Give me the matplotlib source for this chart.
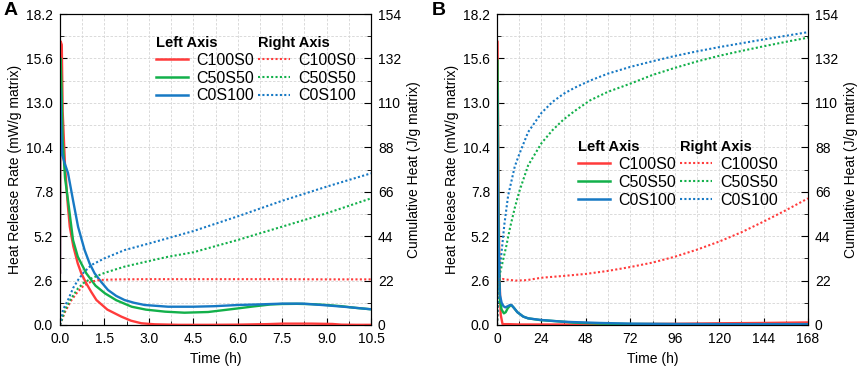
import matplotlib
matplotlib.use('Agg')
import matplotlib.pyplot as plt
from matplotlib.lines import Line2D
from matplotlib.ticker import MultipleLocator

plt.rcParams['font.family'] = ['Liberation Sans', 'DejaVu Sans']

# Colores
rojo = '#ff3b3b'
verde = '#12b04a'
azul = '#1779c4'

series = ['C100S0', 'C50S50', 'C0S100']

# ---------------- Panel A (0 - 10.5 h) ----------------
# Velocidad de liberación de calor (eje izquierdo)
t_red_hrr_A = [0.0, 0.02, 0.06, 0.09, 0.17, 0.25, 0.33, 0.45, 0.6, 0.72, 0.9, 1.05, 1.23, 1.6,
               2.07, 2.4, 2.75, 3.2, 4.0, 5.0, 6.0, 7.0, 7.5, 8.5, 9.2, 9.5, 10.0, 10.5]
red_hrr_A = [3.0, 16.6, 16.4, 12.5, 9.3, 7.3, 5.75, 4.6, 3.6, 3.02, 2.4, 1.95, 1.46, 0.9,
             0.49, 0.25, 0.1, 0.04, 0.01, 0.01, 0.02, 0.05, 0.08, 0.08, 0.06, 0.02, 0.01, 0.01]

t_green_hrr_A = [0.0, 0.02, 0.05, 0.09, 0.17, 0.27, 0.44, 0.6, 0.89, 1.2, 1.52, 1.9, 2.42,
                 2.9, 3.55, 4.2, 5.0, 6.0, 6.5, 7.1, 7.5, 8.0, 8.5, 9.0, 9.5, 10.0, 10.5]
green_hrr_A = [13.0, 15.6, 14.0, 10.8, 8.6, 7.3, 4.97, 4.0, 3.02, 2.3, 1.85, 1.45, 1.07,
               0.9, 0.78, 0.72, 0.76, 0.97, 1.08, 1.2, 1.23, 1.24, 1.22, 1.17, 1.1, 1.0, 0.92]

t_blue_hrr_A = [0.0, 0.0, 0.03, 0.07, 0.17, 0.27, 0.44, 0.61, 0.83, 1.0, 1.17, 1.4, 1.62,
                1.9, 2.18, 2.5, 2.86, 3.65, 4.5, 5.2, 6.0, 6.8, 7.5, 8.2, 9.0, 9.7, 10.5]
blue_hrr_A = [3.0, 13.85, 12.0, 10.0, 9.4, 8.9, 7.3, 5.75, 4.39, 3.6, 3.02, 2.5, 2.05,
              1.7, 1.46, 1.3, 1.17, 1.07, 1.07, 1.1, 1.17, 1.21, 1.25, 1.25, 1.15, 1.05, 0.92]

# Calor acumulado (eje derecho)
t_red_cum_A = [0, 0.17, 0.39, 0.6, 0.8, 1.06, 1.3, 1.5, 2.0, 3.0, 4.5, 6.0, 7.5, 9.0, 10.5]
red_cum_A = [0, 6.5, 12.4, 16.5, 19.5, 21.5, 22.2, 22.4, 22.6, 22.7, 22.7, 22.7, 22.7, 22.6, 22.6]

t_green_cum_A = [0, 0.17, 0.35, 0.61, 0.8, 1.06, 1.5, 2.18, 3.04, 3.65, 4.5, 6.0, 7.5, 9.0, 10.5]
green_cum_A = [0, 7.5, 12.5, 18.2, 20.8, 23.1, 25.8, 28.9, 31.8, 33.8, 36.0, 42.1, 48.7, 55.3, 62.7]

t_blue_cum_A = [0, 0.1, 0.27, 0.45, 0.61, 0.8, 1.06, 1.5, 2.18, 3.04, 3.65, 4.5, 6.0, 7.5, 9.0, 10.5]
blue_cum_A = [0, 7.5, 12.4, 18.5, 22.3, 26.0, 29.7, 33.0, 37.1, 40.5, 43.0, 46.5, 53.8, 61.5, 68.5, 75.1]

# ---------------- Panel B (0 - 168 h) ----------------
t_red_hrr_B = [0, 0.3, 0.8, 1.3, 2.0, 3.0, 6, 12, 24, 48, 72, 96, 120, 144, 168]
red_hrr_B = [16.6, 16.6, 8.0, 3.0, 0.6, 0.05, 0.05, 0.03, 0.03, 0.03, 0.05, 0.07, 0.1, 0.12, 0.15]

t_green_hrr_B = [0, 0.3, 0.8, 1.3, 1.6, 2.5, 3.7, 4.7, 5.8, 7.0, 7.8, 9.0, 11.0, 14.2, 16.8,
                 23.2, 34.8, 41.2, 55.6, 72, 96, 120, 144, 168]
green_hrr_B = [15.5, 15.5, 6.0, 2.2, 1.4, 0.9, 0.68, 0.75, 0.98, 1.12, 1.16, 1.02, 0.75, 0.49,
               0.39, 0.29, 0.2, 0.14, 0.08, 0.06, 0.05, 0.05, 0.05, 0.05]

t_blue_hrr_B = [0, 0.3, 0.8, 1.3, 1.6, 2.5, 3.5, 4.5, 5.8, 7.0, 7.8, 9.0, 11.0, 14.2, 16.8,
                23.2, 34.8, 41.2, 55.6, 72, 96, 120, 144, 168]
blue_hrr_B = [13.8, 10.0, 5.0, 2.6, 1.75, 1.3, 1.1, 1.03, 1.1, 1.17, 1.17, 1.02, 0.75, 0.49,
              0.39, 0.3, 0.2, 0.17, 0.12, 0.08, 0.06, 0.05, 0.05, 0.05]

t_red_cum_B = [0, 0.5, 1.0, 1.5, 3, 6, 10, 16, 24, 36, 48, 60, 72, 84, 96, 108, 120, 132,
               144, 156, 168]
red_cum_B = [0, 12, 20, 22.5, 22.8, 22.4, 22.0, 22.2, 23.4, 24.3, 25.3, 26.8, 28.7, 30.9,
             33.8, 37.3, 41.3, 45.9, 51.2, 56.8, 62.7]

t_green_cum_B = [0, 0.5, 1.0, 1.6, 3, 5, 7, 9.6, 12, 16.8, 24, 30, 36, 42, 50.2, 60, 72,
                 84, 96, 108, 120, 132, 144, 156, 168]
green_cum_B = [0, 10, 18, 25.6, 31, 39, 48, 58, 66, 79, 90, 96.5, 101.8, 106, 111.2, 115.5,
               119.5, 123.8, 127.3, 130.5, 133.3, 135.7, 138.0, 140.2, 142.3]

t_blue_cum_B = [0, 0.5, 1.0, 1.6, 2.4, 4, 6, 9.6, 12, 16.8, 24, 30, 36, 42, 50.2, 60, 72,
                84, 96, 108, 120, 132, 144, 156, 168]
blue_cum_B = [0, 12, 20, 28.9, 35.5, 50, 64, 78.5, 84.5, 95.5, 105, 110.5, 114.5, 117.5, 121,
              124.5, 127.8, 130.6, 133.2, 135.5, 137.6, 139.5, 141.4, 143.2, 145]


def dibujar_panel(ax, hrr, cum, xmax, xstep, xlabels, leg_left, leg_right):
    colores = [rojo, verde, azul]
    for (t, v), c in zip(hrr, colores):
        ax.plot(t, v, color=c, lw=1.7, solid_capstyle='butt', zorder=3)

    ax.set_xlim(0, xmax)
    ax.set_ylim(0, 18.2)
    ax.set_xticks([i * xstep for i in range(len(xlabels))])
    ax.set_xticklabels(xlabels)
    ax.xaxis.set_minor_locator(MultipleLocator(xstep / 2))
    ax.set_yticks([i * 2.6 for i in range(8)])
    ax.set_yticklabels(['%.1f' % (i * 2.6) for i in range(8)])
    ax.yaxis.set_minor_locator(MultipleLocator(1.3))
    ax.grid(which='both', color='#d4d4d4', linestyle=(0, (3, 2)), lw=0.6)
    ax.set_axisbelow(True)
    ax.tick_params(which='both', direction='in', labelsize=10, pad=5)
    ax.tick_params(which='major', length=5)
    ax.tick_params(which='minor', length=3)
    ax.set_xlabel('Time (h)', fontsize=10, labelpad=4)
    ax.set_ylabel('Heat Release Rate (mW/g matrix)', fontsize=10, labelpad=3)

    ax2 = ax.twinx()
    for (t, v), c in zip(cum, colores):
        ax2.plot(t, v, color=c, lw=1.5, linestyle=(0, (1, 1.1)), zorder=2)
    ax2.set_ylim(0, 154)
    ax2.set_yticks([i * 22 for i in range(8)])
    ax2.yaxis.set_minor_locator(MultipleLocator(11))
    ax2.tick_params(which='both', direction='in', labelsize=10, pad=5)
    ax2.tick_params(which='major', length=5)
    ax2.tick_params(which='minor', length=3)
    ax2.set_ylabel('Cumulative Heat (J/g matrix)', fontsize=10, labelpad=4)

    # Leyendas
    h_izq = [Line2D([], [], color=c, lw=1.8) for c in colores]
    h_der = [Line2D([], [], color=c, lw=1.5, linestyle=(0, (1, 1.1))) for c in colores]
    opciones = dict(loc='upper left', frameon=False, fontsize=11.5, handlelength=1.95,
                    handletextpad=0.55, labelspacing=0.18, borderpad=0, borderaxespad=0,
                    alignment='left', title_fontproperties={'weight': 'bold', 'size': 10.5})
    l1 = ax2.legend(h_izq, series, title='Left Axis', bbox_to_anchor=leg_left, **opciones)
    ax2.add_artist(l1)
    ax2.legend(h_der, series, title='Right Axis', bbox_to_anchor=leg_right, **opciones)
    return ax2


fig = plt.figure(figsize=(8.58, 3.70), dpi=100)
axA = fig.add_axes([60 / 858, 45 / 370, 311 / 858, 311 / 370])
axB = fig.add_axes([497 / 858, 45 / 370, 311 / 858, 311 / 370])

dibujar_panel(axA,
              [(t_red_hrr_A, red_hrr_A), (t_green_hrr_A, green_hrr_A), (t_blue_hrr_A, blue_hrr_A)],
              [(t_red_cum_A, red_cum_A), (t_green_cum_A, green_cum_A), (t_blue_cum_A, blue_cum_A)],
              10.5, 1.5, ['0.0', '1.5', '3.0', '4.5', '6.0', '7.5', '9.0', '10.5'],
              (0.31, 0.93), (0.638, 0.93))

dibujar_panel(axB,
              [(t_red_hrr_B, red_hrr_B), (t_green_hrr_B, green_hrr_B), (t_blue_hrr_B, blue_hrr_B)],
              [(t_red_cum_B, red_cum_B), (t_green_cum_B, green_cum_B), (t_blue_cum_B, blue_cum_B)],
              168, 24, ['0', '24', '48', '72', '96', '120', '144', '168'],
              (0.262, 0.595), (0.59, 0.595))

fig.text(0.004, 0.995, 'A', fontsize=14, fontweight='bold', va='top', ha='left')
fig.text(0.503, 0.995, 'B', fontsize=14, fontweight='bold', va='top', ha='left')

fig.savefig('out.png', dpi=100)
